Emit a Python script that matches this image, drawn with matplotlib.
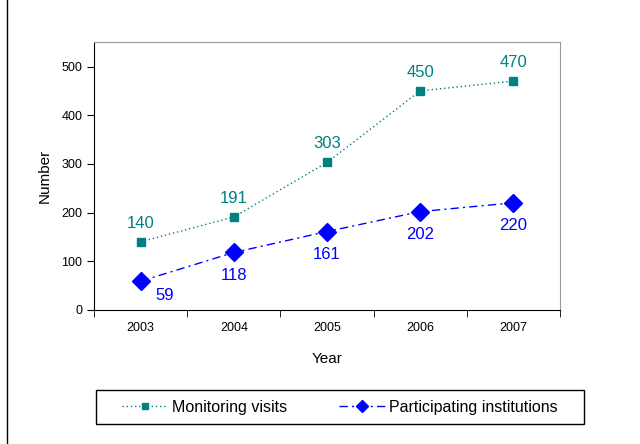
import matplotlib
matplotlib.use('Agg')
import matplotlib.pyplot as plt
from matplotlib.lines import Line2D
from matplotlib.patches import Rectangle

plt.rcParams['font.family'] = ['Liberation Sans', 'DejaVu Sans']

years = ['2003', '2004', '2005', '2006', '2007']
monitoring_visits = [140, 191, 303, 450, 470]
participating_institutions = [59, 118, 161, 202, 220]

teal = '#008080'
blue = '#0000FF'

fig = plt.figure(figsize=(6.4, 4.44), dpi=100)
ax = fig.add_axes([0.147, 0.302, 0.728, 0.603])

x = list(range(len(years)))
ax.plot(x, monitoring_visits, color=teal, linestyle=(0, (1, 2)), linewidth=1,
        marker='s', markersize=6, label='Monitoring visits')
ax.plot(x, participating_institutions, color=blue, linestyle=(0, (6, 3, 1.5, 3)), linewidth=1,
        marker='D', markersize=9, label='Participating institutions')

for i, v in enumerate(monitoring_visits):
    ax.annotate(str(v), (i, v), xytext=(0, 8), textcoords='offset points',
                ha='center', va='bottom', color=teal, fontsize=12)
for i, v in enumerate(participating_institutions):
    if i == 0:
        ax.annotate(str(v), (i, v), xytext=(17, -5), textcoords='offset points',
                    ha='center', va='top', color=blue, fontsize=12)
    else:
        ax.annotate(str(v), (i, v), xytext=(0, -11), textcoords='offset points',
                    ha='center', va='top', color=blue, fontsize=12)

ax.set_xlim(-0.5, 4.5)
ax.set_ylim(0, 550)
ax.set_yticks([0, 100, 200, 300, 400, 500])
ax.set_xticks(x)
ax.set_xticklabels(years, fontsize=9)
ax.set_xticks([-0.5, 0.5, 1.5, 2.5, 3.5, 4.5], minor=True)
ax.tick_params(axis='x', which='major', length=0, pad=9)
ax.tick_params(axis='x', which='minor', length=5, direction='out', color='black')
ax.tick_params(axis='y', labelsize=9, length=5, direction='out')

ax.spines['top'].set_color('#999999')
ax.spines['right'].set_color('#999999')
ax.spines['left'].set_color('black')
ax.spines['bottom'].set_color('black')

ax.set_xlabel('Year', fontsize=11, labelpad=13)
ax.set_ylabel('Number', fontsize=11, labelpad=7)

leg = fig.legend(loc='center', bbox_to_anchor=(0.531, 0.083), ncol=2, fontsize=11.5,
                 frameon=False, handlelength=2.9, handletextpad=0.25,
                 columnspacing=3.25, markerscale=0.7, borderpad=0.2)

fig.add_artist(Rectangle((96 / 640, 1 - 424 / 444), 488 / 640, 34 / 444,
                         transform=fig.transFigure, fill=False,
                         edgecolor='black', linewidth=1))

fig.add_artist(Line2D([0.011, 0.011], [0, 1], color='black', linewidth=1,
                      transform=fig.transFigure))

fig.savefig('out.png', dpi=100)
